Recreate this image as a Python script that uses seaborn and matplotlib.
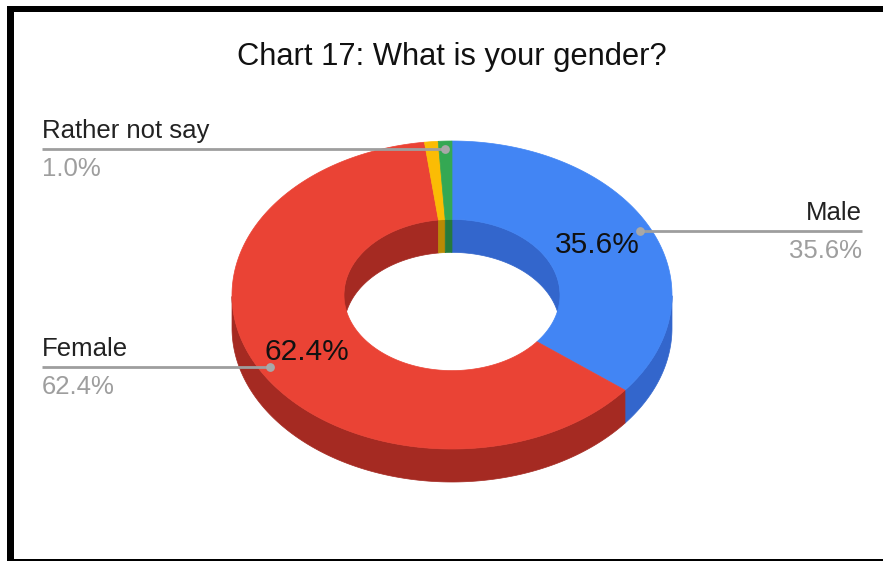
import numpy as np
import matplotlib
matplotlib.use("Agg")
import matplotlib.pyplot as plt
from matplotlib.patches import Polygon, Rectangle
import seaborn as sns

# ---- data ----
categories = ["Male", "Female", "Other", "Rather not say"]
values = [35.6, 62.4, 1.0, 1.0]
top_colors = ["#4285F4", "#EA4335", "#FBBC04", "#34A853"]
side_colors = ["#3366CC", "#A52A22", "#B98A04", "#257A3C"]
outside_labels = ["Male", "Female", "Rather not say"]   # labels shown with leader lines
inside_labels = ["Male", "Female"]                       # labels shown on the slices
title = "Chart 17: What is your gender?"

sns.set_theme(style="white")
plt.rcParams["font.family"] = ["Liberation Sans", "DejaVu Sans"]

W, H = 883, 561
fig = plt.figure(figsize=(W / 100, H / 100), dpi=100)
ax = fig.add_axes([0, 0, 1, 1])
ax.set_xlim(0, W)
ax.set_ylim(H, 0)
ax.axis("off")

# donut geometry (pixel layout)
cx, cy = 452, 295
R, r = 220, 108
tilt = 0.70
depth = 33


def pt(rad, th, dz=0.0):
    return cx + rad * np.cos(th), cy - rad * tilt * np.sin(th) + dz


total = float(sum(values))
fracs = np.array(values) / total
starts = np.deg2rad(90 - 360 * np.concatenate([[0], np.cumsum(fracs)[:-1]]))
ends = np.deg2rad(90 - 360 * np.cumsum(fracs))


def wall_segments(a_hi, a_lo, front):
    ths = np.linspace(a_hi, a_lo, 400)
    s = np.sin(ths)
    mask = s <= 0 if front else s >= 0
    segs = []
    cur = []
    for t, m in zip(ths, mask):
        if m:
            cur.append(t)
        elif cur:
            segs.append(cur)
            cur = []
    if cur:
        segs.append(cur)
    return [np.array(sg) for sg in segs if len(sg) > 1]


# inner (back) walls
for i in range(len(values)):
    for seg in wall_segments(starts[i], ends[i], front=False):
        xt, yt = pt(r, seg)
        xb, yb = pt(r, seg[::-1], depth)
        poly = np.column_stack([np.concatenate([xt, xb]), np.concatenate([yt, yb])])
        ax.add_patch(Polygon(poly, closed=True, facecolor=side_colors[i],
                             edgecolor=side_colors[i], lw=0.5))

# outer (front) walls
for i in range(len(values)):
    for seg in wall_segments(starts[i], ends[i], front=True):
        xt, yt = pt(R, seg)
        xb, yb = pt(R, seg[::-1], depth)
        poly = np.column_stack([np.concatenate([xt, xb]), np.concatenate([yt, yb])])
        ax.add_patch(Polygon(poly, closed=True, facecolor=side_colors[i],
                             edgecolor=side_colors[i], lw=0.5))

# top faces
for i in range(len(values)):
    ths = np.linspace(starts[i], ends[i], 300)
    xo, yo = pt(R, ths)
    xi, yi = pt(r, ths[::-1])
    poly = np.column_stack([np.concatenate([xo, xi]), np.concatenate([yo, yi])])
    ax.add_patch(Polygon(poly, closed=True, facecolor=top_colors[i],
                         edgecolor=top_colors[i], lw=0.5))

# labels
mids = (starts + ends) / 2
lab_fs = 18.5
val_fs = 18.5
grey_line = "#9E9E9E"
for name in outside_labels:
    i = categories.index(name)
    dx, dy = pt(0.95 * R, mids[i])
    right_side = np.cos(mids[i]) > 0
    if right_side:
        x_end, ha = 862, "right"
    else:
        x_end, ha = 42, "left"
    ax.plot([dx, x_end], [dy, dy], color=grey_line, lw=2, solid_capstyle="butt", zorder=5)
    ax.scatter([dx], [dy], s=40, color="#A8A8A8", zorder=6, linewidths=0)
    ax.text(x_end, dy - 11, name, ha=ha, va="baseline", fontsize=lab_fs, color="#222222")
    ax.text(x_end, dy + 27, f"{values[i]:.1f}%", ha=ha, va="baseline",
            fontsize=val_fs, color="#9E9E9E")

for name in inside_labels:
    i = categories.index(name)
    tx, ty = pt((R + r) / 2, mids[i])
    ax.text(tx - 2, ty, f"{values[i]:.1f}%", ha="center", va="center",
            fontsize=21.5, color="#111111", zorder=7)

ax.text(452, 57, title, ha="center", va="center", fontsize=22.2, color="#111111")

# frame pieces of the screenshot
ax.add_patch(Rectangle((7, 6), W, 6, facecolor="black", edgecolor="none", zorder=10))
ax.add_patch(Rectangle((7, 6), 7, H, facecolor="black", edgecolor="none", zorder=10))
ax.add_patch(Rectangle((7, 559), W, 2, facecolor="black", edgecolor="none", zorder=10))

fig.savefig("out.png", dpi=100, facecolor="white")
